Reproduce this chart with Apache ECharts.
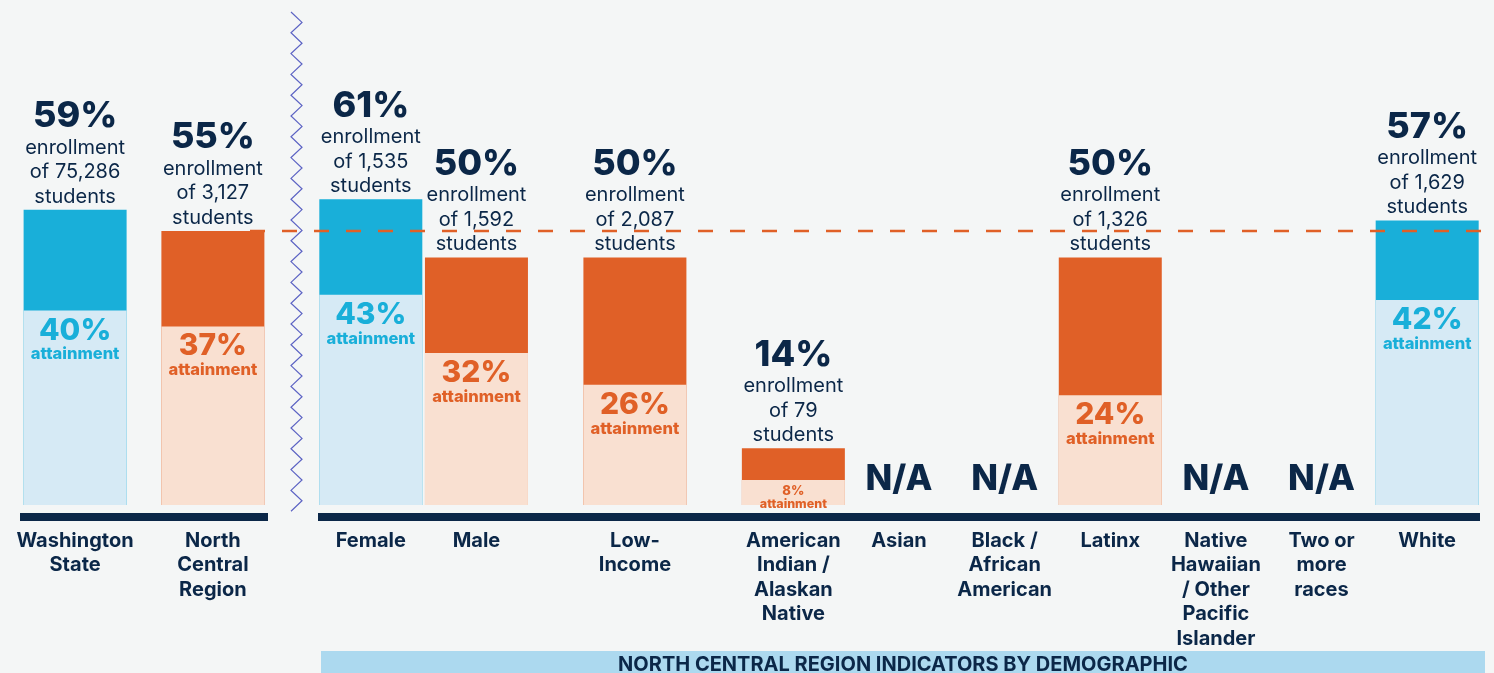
<!DOCTYPE html>
<html>
<head>
<meta charset="utf-8">
<title>North Central Region - enrollment and attainment</title>
<script src="https://cdn.jsdelivr.net/npm/echarts@6/dist/echarts.min.js"></script>
<style>
    html, body { margin: 0; padding: 0; background: #f4f6f6; }
    #chart { width: 1494px; height: 673px; }
</style>
</head>
<body>
<div id="chart"></div>
<script>
    // data
    var categories = ['Washington State', 'North Central Region', 'Female', 'Male', 'Low-Income',
        'American Indian / Alaskan Native', 'Asian', 'Black / African American', 'Latinx',
        'Native Hawaiian / Other Pacific Islander', 'Two or more races', 'White'];
    var tickLabels = ['Washington\nState', 'North\nCentral\nRegion', 'Female', 'Male', 'Low-\nIncome',
        'American\nIndian /\nAlaskan\nNative', 'Asian', 'Black /\nAfrican\nAmerican', 'Latinx',
        'Native\nHawaiian\n/ Other\nPacific\nIslander', 'Two or\nmore\nraces', 'White'];
    var enrollment = [59, 55, 61, 50, 50, 14, null, null, 50, null, null, 57];
    var attainment = [40, 37, 43, 32, 26, 8, null, null, 24, null, null, 42];
    var students = ['75,286', '3,127', '1,535', '1,592', '2,087', '79', null, null, '1,326', null, null, '1,629'];
    var highlighted = ['Washington State', 'Female', 'White'];
    var bandTitle = 'NORTH CENTRAL REGION INDICATORS BY DEMOGRAPHIC';

    var NAVY = '#0b2748', BLUE = '#19afd9', BLUE_LT = '#d6eaf5',
        ORANGE = '#e06027', ORANGE_LT = '#f9e0d1';
    var FONT = 'Inter, "Noto Sans", sans-serif';

    // two panels: state/region on the left, demographics on the right
    var panels = [
        {cats: [0, 1], slots: [2, 7], count: 10, left: 20, width: 248},
        {cats: [2, 3, 4, 5, 6, 7, 8, 9, 10, 11], slots: [1, 3, 6, 9, 11, 13, 15, 17, 19, 21], count: 23, left: 318, width: 1162}
    ];

    var chart = echarts.init(document.getElementById('chart'));

    function enrollLabel(p) {
        var i = p.data.cat;
        return '{big|' + enrollment[i] + '%}\n{small|enrollment}\n{small|of ' + students[i] + '}\n{small|students}';
    }
    function attainLabel(p) {
        var i = p.data.cat;
        if (attainment[i] < 10) return '{pctS|' + attainment[i] + '%}\n{attS|attainment}';
        return '{pct|' + attainment[i] + '%}\n{att|attainment}';
    }

    var grids = [], xAxes = [], yAxes = [], series = [];
    panels.forEach(function (pn, g) {
        var axisData = [], enrollData = [], attainData = [], naData = [];
        for (var s = 0; s < pn.count; s++) {
            axisData.push('');
            enrollData.push(null);
            attainData.push(null);
        }
        pn.cats.forEach(function (c, j) {
            var slot = pn.slots[j];
            var blue = highlighted.indexOf(categories[c]) >= 0;
            axisData[slot] = tickLabels[c];
            if (enrollment[c] == null) {
                naData.push({value: [slot, 0], cat: c});
                return;
            }
            enrollData[slot] = {value: enrollment[c], cat: c, itemStyle: {color: blue ? BLUE : ORANGE}};
            attainData[slot] = {value: attainment[c], cat: c,
                itemStyle: {color: blue ? BLUE_LT : ORANGE_LT},
                label: {color: blue ? BLUE : ORANGE}};
        });

        grids.push({left: pn.left, width: pn.width, top: 0, bottom: 168});
        xAxes.push({
            type: 'category', gridIndex: g, data: axisData, boundaryGap: false, offset: 11.5,
            axisLine: {onZero: false, lineStyle: {color: NAVY, width: 8, cap: 'butt'}},
            axisTick: {show: false},
            axisLabel: {interval: 0, margin: 12, color: NAVY, fontFamily: FONT, fontWeight: 700,
                fontSize: 20, lineHeight: 24.5},
            splitLine: {show: false}
        });
        yAxes.push({type: 'value', gridIndex: g, min: 3.3, max: 98.6, show: false, splitLine: {show: false}});

        series.push({
            type: 'bar', xAxisIndex: g, yAxisIndex: g, barWidth: 103, barGap: '-100%',
            data: enrollData,
            label: {show: true, position: 'top', distance: 1, formatter: enrollLabel,
                rich: {
                    big: {fontFamily: FONT, fontSize: 36, fontWeight: 800, lineHeight: 38, color: NAVY},
                    small: {fontFamily: FONT, fontSize: 20, lineHeight: 24.5, color: NAVY}
                }}
        });
        series.push({
            type: 'bar', xAxisIndex: g, yAxisIndex: g, barWidth: 103, barGap: '-100%',
            data: attainData,
            label: {show: true, position: 'insideTop', distance: 4, formatter: attainLabel,
                rich: {
                    pct: {fontFamily: FONT, fontSize: 30, fontWeight: 800, lineHeight: 32},
                    att: {fontFamily: FONT, fontSize: 16.5, fontWeight: 800, lineHeight: 16},
                    pctS: {fontFamily: FONT, fontSize: 13, fontWeight: 800, lineHeight: 13},
                    attS: {fontFamily: FONT, fontSize: 12.5, fontWeight: 800, lineHeight: 15}
                }}
        });
        if (naData.length) {
            series.push({
                type: 'scatter', xAxisIndex: g, yAxisIndex: g, clip: false, symbolSize: 1,
                itemStyle: {color: 'rgba(0,0,0,0)', opacity: 1},
                data: naData,
                label: {show: true, position: 'top', distance: 25, formatter: 'N/A',
                    color: NAVY, fontFamily: FONT, fontSize: 35, fontWeight: 800}
            });
        }
    });

    chart.setOption({
        backgroundColor: '#f4f6f6',
        animation: false,
        grid: grids,
        xAxis: xAxes,
        yAxis: yAxes,
        series: series
    });

    // region reference line, zigzag break, bottom band
    var yRef = chart.convertToPixel({yAxisIndex: 1}, enrollment[1]);
    var zig = [];
    for (var k = 0, y = 12; y <= 519; k++, y += 10.4) zig.push([k % 2 ? 302 : 291, y]);

    chart.setOption({
        graphic: [
            {type: 'polyline', shape: {points: zig}, style: {stroke: '#5c63c4', lineWidth: 1.2, fill: null}},
            {type: 'line', z: 100, shape: {x1: 250, y1: yRef, x2: 1494, y2: yRef},
                style: {stroke: ORANGE, lineWidth: 2.5, lineDash: [15, 17]}},
            {type: 'rect', shape: {x: 321, y: 651, width: 1164, height: 30}, style: {fill: '#acd9ef'}},
            {type: 'text', x: 903, y: 665, style: {text: bandTitle, font: 'bold 20px ' + FONT,
                fill: NAVY, align: 'center', verticalAlign: 'middle'}}
        ]
    });
</script>
</body>
</html>
